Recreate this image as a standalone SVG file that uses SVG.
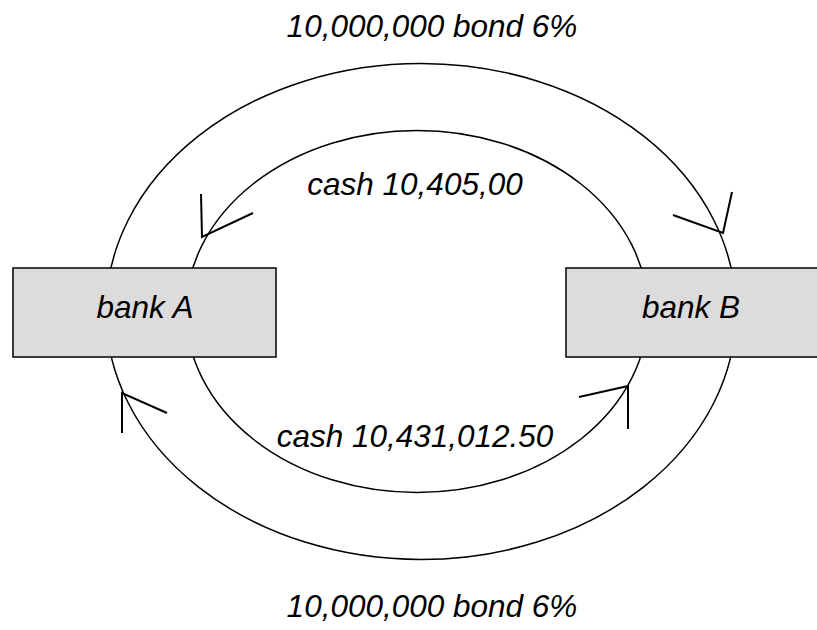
<svg xmlns="http://www.w3.org/2000/svg" width="817" height="630" viewBox="0 0 817 630">
<style>
.e{fill:none;stroke:#000;stroke-width:1.5}
.a{fill:none;stroke:#000;stroke-width:2}
.box{fill:#dcdcdc;stroke:#000;stroke-width:1.5}
text{font-family:"Liberation Sans",Arial,sans-serif;font-style:italic;font-size:31.5px;fill:#000;text-anchor:middle}
</style>
<rect width="817" height="630" fill="#fff"/>
<g id="connectors">
<ellipse class="e" cx="421" cy="311.5" rx="315" ry="248"/>
<ellipse class="e" cx="417" cy="311.5" rx="231" ry="181"/>
<polyline class="a" points="201,194 202,237 253,213"/>
<polyline class="a" points="732,192 723,233 673,215"/>
<polyline class="a" points="122,433 122,393 167,413"/>
<polyline class="a" points="628,429 628,386 579,397"/>
<text x="432" y="37">10,000,000 bond 6%</text>
<text x="415" y="195">cash 10,405,00</text>
<text x="415" y="447">cash 10,431,012.50</text>
<text x="432" y="617">10,000,000 bond 6%</text>
</g>
<g id="bankA">
<rect class="box" x="13" y="268" width="263" height="89"/>
<text x="145" y="318">bank A</text>
</g>
<g id="bankB">
<rect class="box" x="566" y="268" width="263" height="89"/>
<text x="691" y="318">bank B</text>
</g>
</svg>
